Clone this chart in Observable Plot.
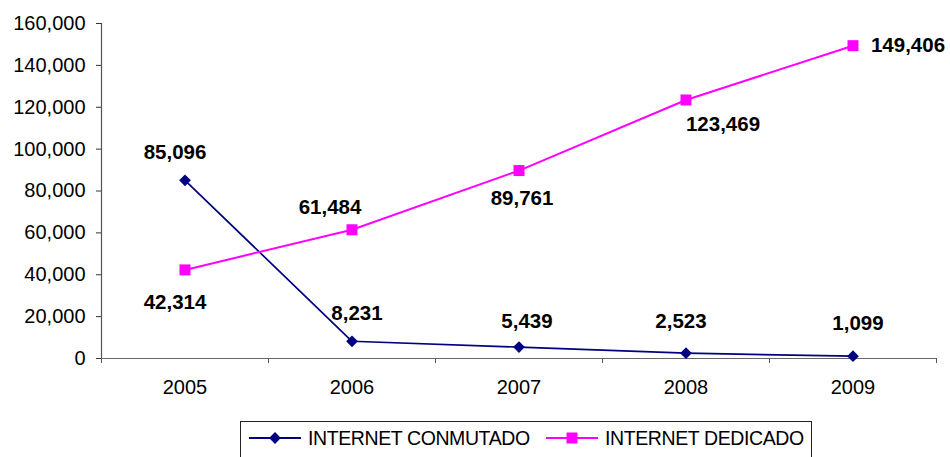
<!DOCTYPE html>
<html>
<head>
<meta charset="utf-8">
<script src="https://cdn.jsdelivr.net/npm/d3@7"></script>
<script src="https://cdn.jsdelivr.net/npm/@observablehq/plot@0.6"></script>
<style>
  body { margin: 0; background: #fff; font-family: "Liberation Sans", Arial, sans-serif; }
  #wrap { position: relative; width: 950px; height: 457px; overflow: hidden; }
  #legend { position: absolute; left: 240px; top: 421px; width: 572px; height: 40px; border: 1px solid #222; box-sizing: border-box; }
  #legend svg { display: block; }
</style>
</head>
<body>
<div id="wrap">
  <div id="chart"></div>
  <div id="legend"></div>
</div>
<script>
const years = [2005, 2006, 2007, 2008, 2009];
const conmutado = [85096, 8231, 5439, 2523, 1099];
const dedicado = [42314, 61484, 89761, 123469, 149406];
const yTicks = [0, 20000, 40000, 60000, 80000, 100000, 120000, 140000, 160000];
const seriesNames = ["INTERNET CONMUTADO", "INTERNET DEDICADO"];

// label placement (layout only)
const conmutadoDx = [-10, 5, 8, -5, 5];
const conmutadoDy = [-28, -28, -26, -32, -33];
const dedicadoDx = [-10, -22, 3, 37, 55];
const dedicadoDy = [33, -22, 28, 24, 0];

const NAVY = "#000080";
const MAGENTA = "#FF00FF";

const rowsC = years.map((y, i) => ({year: y, value: conmutado[i], dx: conmutadoDx[i], dy: conmutadoDy[i]}));
const rowsD = years.map((y, i) => ({year: y, value: dedicado[i], dx: dedicadoDx[i], dy: dedicadoDy[i]}));
const bounds = [years[0] - 0.5, ...years.map(y => y + 0.5)];
const fmt = d3.format(",");

const labelMarks = [...rowsC, ...rowsD].map(d =>
  Plot.text([d], {x: "year", y: "value", text: r => fmt(r.value), dx: d.dx, dy: d.dy,
    fontWeight: "bold", fontSize: 20.5, fill: "#000"})
);

const chart = Plot.plot({
  width: 950,
  height: 410,
  marginLeft: 101,
  marginRight: 14,
  marginTop: 23,
  marginBottom: 52,
  style: {fontFamily: "'Liberation Sans', Arial, sans-serif", fontSize: "20px", color: "#000", background: "#fff"},
  x: {domain: [bounds[0], bounds[bounds.length - 1]], axis: null},
  y: {domain: [0, 160000], axis: null},
  marks: [
    Plot.axisY(yTicks, {tickSize: 5, tickPadding: 11, tickFormat: fmt, fontSize: 20, stroke: "#333", label: null}),
    Plot.axisX(years, {tickSize: 0, tickPadding: 21, tickFormat: "d", fontSize: 20, label: null}),
    Plot.axisX(bounds, {tickSize: 5, tickFormat: () => "", stroke: "#555", label: null}),
    Plot.ruleX([bounds[0]], {stroke: "#555", strokeWidth: 1.2}),
    Plot.ruleY([0], {stroke: "#666", strokeWidth: 1.2}),
    Plot.line(rowsC, {x: "year", y: "value", stroke: NAVY, strokeWidth: 1.7}),
    Plot.line(rowsD, {x: "year", y: "value", stroke: MAGENTA, strokeWidth: 2}),
    Plot.dot(rowsC, {x: "year", y: "value", symbol: "diamond2", r: 5.3, fill: NAVY, stroke: "none"}),
    Plot.dot(rowsD, {x: "year", y: "value", symbol: "square", r: 6.2, fill: MAGENTA, stroke: "none"}),
    ...labelMarks
  ]
});
document.getElementById("chart").appendChild(chart);

// legend
const legendItems = [
  {name: seriesNames[0], color: NAVY, symbol: "diamond2", r: 5.3, x0: 8},
  {name: seriesNames[1], color: MAGENTA, symbol: "square", r: 6.2, x0: 305}
];
const lw = 570, lh = 38;
const lsvg = d3.create("svg").attr("width", lw).attr("height", lh);
legendItems.forEach(it => {
  const g = lsvg.append("g").attr("transform", `translate(${it.x0},16)`);
  g.append("line").attr("x1", 0).attr("x2", 52).attr("y1", 0).attr("y2", 0)
    .attr("stroke", it.color).attr("stroke-width", 2);
  const sym = it.symbol === "square" ? d3.symbolSquare : d3.symbolDiamond2;
  g.append("path").attr("transform", "translate(26,0)")
    .attr("d", d3.symbol(sym, Math.PI * it.r * it.r)()).attr("fill", it.color);
  g.append("text").attr("x", 59).attr("y", 0).attr("dy", "0.35em")
    .attr("font-family", "'Liberation Sans', Arial, sans-serif").attr("font-size", 19.5)
    .attr("letter-spacing", "-0.4px")
    .attr("fill", "#000").text(it.name);
});
document.getElementById("legend").appendChild(lsvg.node());
</script>
</body>
</html>
